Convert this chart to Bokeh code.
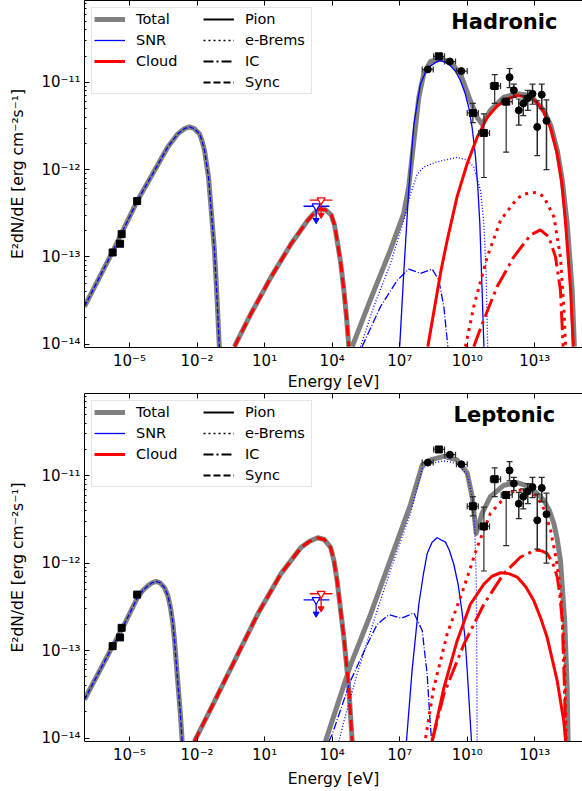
import math
from bokeh.plotting import figure
from bokeh.models import (LogAxis, FixedTicker, Legend, LegendItem, Label,
                          CustomJSTickFormatter)
from bokeh.layouts import column
from bokeh.embed import file_html
from bokeh.resources import INLINE

# ---------------- data (log10 E [eV], log10 E^2 dN/dE [erg cm^-2 s^-1]) ----------------
# Hadronic model
had_sync_snr_E = [-7.0, -5.75, -4.64, -4.04, -3.30, -2.86, -2.56, -2.34, -2.12, -1.89, -1.78, -1.67, -1.49, -1.37, -1.23, -1.11, -1.01]
had_sync_snr_F = [-13.57, -12.94, -12.35, -12.08, -11.74, -11.59, -11.53, -11.51, -11.53, -11.59, -11.67, -11.78, -12.09, -12.47, -12.92, -13.49, -14.04]
had_sync_cld_E = [-0.34, 0.40, 1.29, 2.18, 2.92, 3.20, 3.44, 3.70, 3.96, 4.10, 4.22, 4.38, 4.52, 4.64, 4.74]
had_sync_cld_F = [-14.03, -13.65, -13.23, -12.85, -12.58, -12.50, -12.45, -12.46, -12.52, -12.63, -12.81, -13.07, -13.38, -13.70, -14.03]
had_brem_snr_E = [5.26, 5.85, 6.59, 7.18, 7.48, 7.78, 8.07, 8.66, 9.55, 10.0, 10.29, 10.59, 10.74, 10.84, 10.91]
had_brem_snr_F = [-14.03, -13.57, -13.08, -12.58, -12.28, -12.05, -11.97, -11.91, -11.86, -11.89, -11.97, -12.24, -12.62, -13.19, -14.03]
had_ic_snr_E = [5.33, 6.15, 6.89, 7.40, 7.92, 8.44, 8.74, 8.96, 9.14]
had_ic_snr_F = [-14.03, -13.57, -13.27, -13.14, -13.19, -13.14, -13.27, -13.57, -14.03]
had_pion_snr_E = [7.00, 7.18, 7.40, 7.63, 7.92, 8.15, 8.37, 8.60, 8.81, 9.05, 9.26, 9.50, 9.70, 9.90, 10.07, 10.22, 10.37, 10.47, 10.56, 10.66, 10.74]
had_pion_snr_F = [-14.03, -13.19, -12.24, -11.48, -11.02, -10.88, -10.81, -10.77, -10.75, -10.77, -10.81, -10.88, -10.98, -11.12, -11.29, -11.52, -11.86, -12.20, -12.62, -13.38, -14.03]
had_pion_cld_E = [8.25, 8.81, 9.11, 9.55, 10.0, 10.44, 10.89, 11.33, 11.77, 12.22, 12.81, 13.10, 13.40, 13.70, 14.0, 14.20, 14.37, 14.59, 14.71]
had_pion_cld_F = [-14.03, -13.19, -12.81, -12.31, -11.93, -11.63, -11.40, -11.27, -11.19, -11.15, -11.17, -11.23, -11.34, -11.52, -11.82, -12.15, -12.62, -13.38, -14.03]
had_brem_cld_E = [9.92, 10.29, 10.89, 11.48, 12.22, 12.55, 12.89, 13.15, 13.40, 13.85, 14.14, 14.29, 14.37]
had_brem_cld_F = [-14.03, -13.57, -13.0, -12.58, -12.33, -12.28, -12.26, -12.27, -12.31, -12.54, -13.0, -13.57, -14.03]
had_ic_cld_E = [10.29, 10.74, 11.33, 12.07, 12.81, 13.25, 13.62, 13.92, 14.14, 14.26]
had_ic_cld_F = [-14.03, -13.72, -13.34, -13.0, -12.75, -12.69, -12.77, -13.0, -13.38, -14.03]
had_total_he_E = [4.89, 5.70, 6.59, 7.18, 7.40, 7.63, 7.85, 8.07, 8.37, 8.81, 9.26, 9.70, 10.14, 10.44, 10.66, 11.03, 11.62, 12.22, 12.81, 13.40, 13.72, 14.0, 14.22, 14.44, 14.66, 14.76]
had_total_he_F = [-14.03, -13.49, -12.92, -12.50, -12.20, -11.67, -11.17, -10.90, -10.76, -10.73, -10.77, -10.90, -11.21, -11.40, -11.48, -11.32, -11.17, -11.13, -11.15, -11.32, -11.50, -11.78, -12.12, -12.62, -13.38, -14.03]

# Leptonic model
lep_sync_snr_E = [-7.0, -5.75, -5.23, -4.64, -4.40, -4.19, -4.00, -3.82, -3.64, -3.45, -3.30, -3.18, -3.08, -3.0, -2.86, -2.74, -2.66]
lep_sync_snr_F = [-13.56, -12.95, -12.70, -12.39, -12.31, -12.26, -12.225, -12.21, -12.225, -12.28, -12.37, -12.51, -12.68, -12.89, -13.35, -13.73, -14.04]
lep_sync_cld_E = [-2.12, -1.38, -0.34, 0.70, 1.73, 2.62, 3.00, 3.36, 3.65, 3.93, 4.08, 4.22, 4.52, 4.74, 4.89]
lep_sync_cld_F = [-14.04, -13.66, -13.12, -12.58, -12.12, -11.82, -11.75, -11.71, -11.73, -11.82, -11.97, -12.20, -12.85, -13.43, -14.04]
lep_brem_snr_E = [4.30, 4.52, 5.11, 5.85, 6.59, 7.48, 8.0, 8.37, 8.96, 9.55, 10.0, 10.22, 10.34, 10.41, 10.44]
lep_brem_snr_F = [-14.04, -13.81, -13.27, -12.66, -12.08, -11.43, -10.92, -10.86, -10.83, -10.86, -10.99, -11.24, -11.62, -12.28, -14.04]
lep_ic_snr_E = [3.85, 4.0, 4.81, 5.56, 6.0, 6.52, 7.08, 7.63, 8.0, 8.22, 8.34, 8.42]
lep_ic_snr_F = [-14.04, -13.96, -13.35, -12.93, -12.70, -12.59, -12.63, -12.57, -12.77, -13.27, -13.77, -14.04]
lep_pion_snr_E = [7.30, 7.55, 7.85, 8.05, 8.22, 8.44, 8.66, 9.03, 9.20, 9.40, 9.60, 9.78, 9.90, 10.0, 10.19]
lep_pion_snr_F = [-14.04, -13.23, -12.47, -12.13, -11.89, -11.76, -11.71, -11.76, -11.85, -12.01, -12.25, -12.58, -12.85, -13.23, -14.04]
lep_pion_cld_E = [8.44, 8.96, 9.55, 10.14, 10.74, 11.10, 11.48, 11.85, 12.22, 12.60, 12.96, 13.25, 13.55, 14.0, 14.29, 14.37]
lep_pion_cld_F = [-14.04, -13.43, -12.89, -12.47, -12.24, -12.15, -12.11, -12.12, -12.16, -12.27, -12.43, -12.62, -12.85, -13.35, -13.81, -14.04]
lep_brem_cld_E = [8.15, 8.51, 9.11, 9.85, 10.44, 11.03, 11.77, 12.15, 12.51, 12.80, 13.11, 13.40, 13.70, 13.95, 14.14, 14.32, 14.40]
lep_brem_cld_F = [-14.0, -13.43, -12.81, -12.28, -11.82, -11.43, -11.22, -11.17, -11.16, -11.19, -11.24, -11.38, -11.62, -11.95, -12.28, -13.04, -14.04]
lep_ic_cld_E = [8.44, 8.96, 9.85, 10.74, 11.62, 12.37, 13.03, 13.30, 13.55, 13.80, 14.0, 14.12, 14.22, 14.32, 14.37]
lep_ic_cld_F = [-14.04, -13.50, -12.93, -12.47, -12.12, -11.93, -11.85, -11.86, -11.89, -12.0, -12.16, -12.38, -12.66, -13.43, -14.04]
lep_total_he_E = [3.70, 4.07, 4.81, 5.70, 6.59, 7.48, 8.0, 8.37, 8.96, 9.55, 10.0, 10.22, 10.40, 10.66, 11.03, 11.62, 12.22, 12.81, 13.40, 13.65, 13.85, 14.0, 14.14, 14.33, 14.44, 14.48]
lep_total_he_F = [-14.04, -13.75, -13.17, -12.59, -11.96, -11.33, -10.88, -10.82, -10.78, -10.82, -10.97, -11.24, -11.66, -11.43, -11.24, -11.11, -11.08, -11.13, -11.28, -11.40, -11.55, -11.73, -11.97, -12.66, -13.43, -14.04]

# Observations
radio_E = [-5.75, -5.42, -5.35, -4.66]
radio_F = [-12.95, -12.85, -12.74, -12.36]
sq_E = [8.74, 10.25, 10.74, 11.22, 11.73]
sq_F = [-10.70, -11.35, -11.58, -11.04, -11.22]
sq_Elo = [8.51, 10.0, 10.51, 11.03, 11.51]
sq_Ehi = [8.99, 10.49, 10.99, 11.48, 12.0]
sq_Flo = [-10.73, -11.46, -12.09, -11.24, -11.80]
sq_Fhi = [-10.67, -11.24, -11.36, -10.91, -11.21]
ci_E = [8.25, 9.23, 9.74]
ci_F = [-10.85, -10.76, -10.87]
ci_Elo = [8.0, 9.0, 9.52]
ci_Ehi = [8.49, 9.48, 10.0]
tev_E = [11.88, 12.07, 12.29, 12.49, 12.69, 12.90, 13.11, 13.31, 13.52]
tev_F = [-10.94, -11.09, -11.32, -11.24, -11.18, -11.13, -11.51, -11.14, -11.44]
tev_Flo = [-11.06, -11.17, -11.49, -11.38, -11.32, -11.25, -11.84, -11.30, -12.00]
tev_Fhi = [-10.84, -11.02, -11.19, -11.15, -11.09, -11.02, -11.21, -11.02, -11.20]
ul_snr = dict(E=3.29, Elo=2.73, Ehi=3.88, F=-12.42, Fend=-12.58)
ul_cld = dict(E=3.51, Elo=3.00, Ehi=4.01, F=-12.35, Fend=-12.52)

x_ticks = [1e-5, 1e-2, 1e1, 1e4, 1e7, 1e10, 1e13]
y_ticks = [1e-14, 1e-13, 1e-12, 1e-11, 1e-10]

XMIN, XMAX = 10 ** -7.0, 10 ** 15.12
YMIN, YMAX = 10 ** -14.04, 10 ** -10.06

FONT = "DejaVu Sans"
GRAY, BLUE, RED = "#808080", "#0000ff", "#ff0000"


def p10(a):
    return [10.0 ** v for v in a]


def seg(*parts):
    xs, ys = [], []
    for i, (e, f) in enumerate(parts):
        if i:
            xs.append(float("nan")); ys.append(float("nan"))
        xs += p10(e); ys += p10(f)
    return xs, ys


SUPJS = """
const sup = {'-':'\u207b','0':'\u2070','1':'\u00b9','2':'\u00b2','3':'\u00b3','4':'\u2074','5':'\u2075','6':'\u2076','7':'\u2077','8':'\u2078','9':'\u2079'};
const e = Math.round(Math.log10(tick));
return '10' + String(e).split('').map(c => sup[c]).join('');
"""


def panel(d, title, frame_h, b_top, b_bot, xl_standoff):
    p = figure(x_axis_type="log", y_axis_type="log", x_range=(XMIN, XMAX), y_range=(YMIN, YMAX),
               frame_width=498, frame_height=frame_h, min_border_left=84, min_border_right=0,
               min_border_top=b_top, min_border_bottom=b_bot,
               output_backend="svg", toolbar_location=None)
    p.outline_line_color = None
    p.grid.visible = False
    minor_y = [k * 10.0 ** e for e in range(-15, -9) for k in range(2, 10)]
    p.xaxis.ticker = FixedTicker(ticks=x_ticks, minor_ticks=[])
    p.yaxis.ticker = FixedTicker(ticks=y_ticks, minor_ticks=minor_y)
    for ax in (p.xaxis, p.yaxis):
        ax.formatter = CustomJSTickFormatter(code=SUPJS)
        ax.major_tick_in = 5
        ax.major_tick_out = 0
        ax.minor_tick_in = 2
        ax.minor_tick_out = 0
        ax.major_label_text_font = FONT
        ax.major_label_text_font_size = "15px"
        ax.major_label_text_color = "black"
        ax.axis_label_text_font = FONT
        ax.axis_label_text_font_size = "15.5px"
        ax.axis_label_text_font_style = "normal"
        ax.axis_label_text_color = "black"
        ax.axis_line_color = "black"
        ax.major_tick_line_color = "black"
        ax.minor_tick_line_color = "black"
        ax.major_label_standoff = 4
    p.xaxis.axis_label = "Energy [eV]"
    p.yaxis.axis_label = "E\u00b2dN/dE [erg cm\u207b\u00b2s\u207b\u00b9]"
    p.xaxis.axis_label_standoff = xl_standoff
    p.yaxis.axis_label_standoff = 11

    top = LogAxis(ticker=FixedTicker(ticks=x_ticks, minor_ticks=[]),
                  major_label_text_font_size="1px", major_label_text_color=None,
                  major_tick_in=5, major_tick_out=0,
                  minor_tick_in=0, minor_tick_out=0, major_label_standoff=0,
                  axis_line_color="black")
    p.add_layout(top, "above")

    tx, ty = seg(d["sync_snr"], d["sync_cld"], d["total"])
    r_total = p.line(tx, ty, line_color=GRAY, line_width=5, line_join="round")

    p.line(p10(d["sync_snr"][0]), p10(d["sync_snr"][1]), line_color=BLUE, line_width=1.3, line_dash="5 2")
    p.line(p10(d["brem_snr"][0]), p10(d["brem_snr"][1]), line_color=BLUE, line_width=1.3, line_dash="1 2")
    p.line(p10(d["ic_snr"][0]), p10(d["ic_snr"][1]), line_color=BLUE, line_width=1.3, line_dash="8 2 1 2")
    p.line(p10(d["pion_snr"][0]), p10(d["pion_snr"][1]), line_color=BLUE, line_width=1.3, line_join="round")
    p.line(p10(d["sync_cld"][0]), p10(d["sync_cld"][1]), line_color=RED, line_width=3, line_dash="11 5")
    p.line(p10(d["brem_cld"][0]), p10(d["brem_cld"][1]), line_color=RED, line_width=3, line_dash="3 5")
    p.line(p10(d["ic_cld"][0]), p10(d["ic_cld"][1]), line_color=RED, line_width=3, line_dash="19 5 3 5")
    p.line(p10(d["pion_cld"][0]), p10(d["pion_cld"][1]), line_color=RED, line_width=3, line_join="round")

    for ul, col in ((ul_snr, BLUE), (ul_cld, RED)):
        p.segment(x0=[10 ** ul["Elo"]], y0=[10 ** ul["F"]], x1=[10 ** ul["Ehi"]], y1=[10 ** ul["F"]],
                  line_color=col, line_width=1.3)
        p.segment(x0=[10 ** ul["E"]], y0=[10 ** ul["F"]], x1=[10 ** ul["E"]], y1=[10 ** ul["Fend"]],
                  line_color=col, line_width=1.3)
        p.scatter([10 ** ul["E"]], [10 ** ul["F"]], marker="inverted_triangle", size=8,
                  fill_color="white", line_color=col, line_width=1.2)
        p.scatter([10 ** ul["E"]], [10 ** ul["Fend"]], marker="inverted_triangle", size=6,
                  fill_color=col, line_color=col)

    EC = "#2b2b2b"
    p.segment(x0=p10(sq_Elo), y0=p10(sq_F), x1=p10(sq_Ehi), y1=p10(sq_F), line_color=EC, line_width=1.2)
    p.segment(x0=p10(sq_E), y0=p10(sq_Flo), x1=p10(sq_E), y1=p10(sq_Fhi), line_color=EC, line_width=1.2)
    p.segment(x0=p10(ci_Elo), y0=p10(ci_F), x1=p10(ci_Ehi), y1=p10(ci_F), line_color=EC, line_width=1.2)
    p.segment(x0=p10(tev_E), y0=p10(tev_Flo), x1=p10(tev_E), y1=p10(tev_Fhi), line_color=EC, line_width=1.5)
    p.scatter(p10(tev_E + tev_E + sq_E + sq_E), p10(tev_Flo + tev_Fhi + sq_Flo + sq_Fhi),
              marker="dash", size=6, line_color=EC, line_width=1.2)
    p.scatter(p10(sq_Elo + sq_Ehi + ci_Elo + ci_Ehi), p10(sq_F + sq_F + ci_F + ci_F),
              marker="dash", angle=math.pi / 2, size=6, line_color=EC, line_width=1.2)
    p.scatter(p10(radio_E), p10(radio_F), marker="square", size=7, color="black")
    p.scatter(p10(sq_E), p10(sq_F), marker="square", size=7, color="black")
    p.scatter(p10(ci_E), p10(ci_F), marker="circle", size=7, color="black")
    p.scatter(p10(tev_E), p10(tev_F), marker="circle", size=7, color="black")

    # legend: dummy renderers carry the key styles
    r_snr = p.line([1.0], [1.0], line_color=BLUE, line_width=1.3)
    r_cld = p.line([1.0], [1.0], line_color=RED, line_width=3)
    r_blank = p.line([1.0], [1.0], line_color="white", line_alpha=0)
    r_pion = p.line([1.0], [1.0], line_color="black", line_width=2)
    r_brem = p.line([1.0], [1.0], line_color="black", line_width=1.5, line_dash="2 3")
    r_ic = p.line([1.0], [1.0], line_color="black", line_width=2, line_dash="10 3 2 3")
    r_sync = p.line([1.0], [1.0], line_color="black", line_width=2, line_dash="7 3")
    items = [LegendItem(label="Total", renderers=[r_total]),
             LegendItem(label="SNR", renderers=[r_snr]),
             LegendItem(label="Cloud", renderers=[r_cld]),
             LegendItem(label=" ", renderers=[r_blank]),
             LegendItem(label="Pion", renderers=[r_pion]),
             LegendItem(label="e-Brems", renderers=[r_brem]),
             LegendItem(label="IC", renderers=[r_ic]),
             LegendItem(label="Sync", renderers=[r_sync])]
    leg = Legend(items=items, location="top_left", ncols=2, margin=7, padding=2,
                 glyph_width=31, glyph_height=18, label_height=18, label_standoff=11,
                 label_width=64, spacing=3,
                 label_text_font=FONT, label_text_font_size="14.5px", label_text_color="black",
                 border_line_color="#cccccc", border_line_width=1,
                 background_fill_color="white", background_fill_alpha=0.85)
    p.add_layout(leg)

    p.add_layout(Label(x=10 ** 11.65, y=10 ** -10.31, text=title, text_font=FONT,
                       text_font_style="bold", text_font_size="21px", text_color="black",
                       text_align="center", text_baseline="middle"))
    return p


had = dict(sync_snr=(had_sync_snr_E, had_sync_snr_F), sync_cld=(had_sync_cld_E, had_sync_cld_F),
           brem_snr=(had_brem_snr_E, had_brem_snr_F), ic_snr=(had_ic_snr_E, had_ic_snr_F),
           pion_snr=(had_pion_snr_E, had_pion_snr_F), pion_cld=(had_pion_cld_E, had_pion_cld_F),
           brem_cld=(had_brem_cld_E, had_brem_cld_F), ic_cld=(had_ic_cld_E, had_ic_cld_F),
           total=(had_total_he_E, had_total_he_F))
lep = dict(sync_snr=(lep_sync_snr_E, lep_sync_snr_F), sync_cld=(lep_sync_cld_E, lep_sync_cld_F),
           brem_snr=(lep_brem_snr_E, lep_brem_snr_F), ic_snr=(lep_ic_snr_E, lep_ic_snr_F),
           pion_snr=(lep_pion_snr_E, lep_pion_snr_F), pion_cld=(lep_pion_cld_E, lep_pion_cld_F),
           brem_cld=(lep_brem_cld_E, lep_brem_cld_F), ic_cld=(lep_ic_cld_E, lep_ic_cld_F),
           total=(lep_total_he_E, lep_total_he_F))

p1 = panel(had, "Hadronic", 347, 0, 38, 0)
p2 = panel(lep, "Leptonic", 348, 0, 50, 3)
layout = column(p1, p2, spacing=0)

open("out.html", "w").write(file_html(layout, INLINE))
